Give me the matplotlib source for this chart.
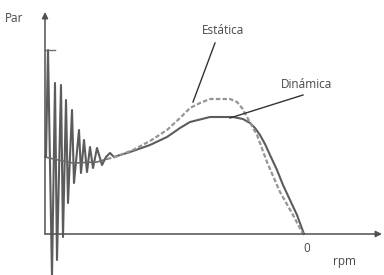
import numpy as np
import matplotlib.pyplot as plt

plt.rcParams['font.family'] = ['Open Sans', 'DejaVu Sans']

# curva dinámica (oscilaciones de arranque), unidades del gráfico
din_x = [1, 3, 7, 10, 12, 16, 18, 21, 23, 27, 29, 34, 36, 39, 42, 45, 48, 52,
         57, 61, 65, 69, 75, 82, 88, 105, 122, 135, 145, 165, 188, 198, 205,
         210, 215, 220, 225, 232, 238, 245, 252, 259]
din_y = [77, 184, -43, 151, -26, 149, -3, 134, 31, 124, 51, 104, 61, 94, 62,
         87, 66, 86, 69, 77, 81, 77, 79, 81, 83, 89, 97, 106, 112, 117, 117,
         115, 111, 106, 99, 90, 79, 64, 49, 34, 19, 0]

# curva estática
est_x = [0, 13, 28, 52, 62, 70, 88, 105, 122, 135, 145, 155, 165, 185, 192,
         197, 202, 207, 212, 222, 235, 248, 258]
est_y = [77, 74, 71, 72, 75, 77, 84, 93, 104, 116, 126, 131, 135, 135, 132,
         126, 117, 108, 99, 72, 42, 19, 0]
corte = 4  # a partir de aquí la estática va a trazos

fig = plt.figure(figsize=(3.84, 2.75), dpi=100)
ax = fig.add_axes([0, 0, 1, 1])
ax.set_xlim(-45, 339)
ax.set_ylim(-41, 234)
ax.axis('off')

ax.plot(din_x, din_y, color='#5c5c5c', lw=1.5)
ax.plot(est_x[:corte + 1], est_y[:corte + 1], color='#6a6a6a', lw=1.2)
ax.plot(est_x[corte:], est_y[corte:], color='#959595', lw=1.6, ls=(0, (2, 1)))
ax.plot([0, 10], [184, 184], color='#707070', lw=1.0)

# ejes con flecha
flecha = dict(arrowstyle='-|>', color='#505050', lw=1.1, mutation_scale=9,
              shrinkA=0, shrinkB=0)
ax.annotate('', xy=(0, 222), xytext=(0, 0), arrowprops=flecha)
ax.annotate('', xy=(337, 0), xytext=(0, 0), arrowprops=flecha)

# etiquetas
ax.plot([170, 148], [191, 132], color='#333333', lw=1.0)
ax.plot([258, 185], [139, 116], color='#333333', lw=1.0)
kw = dict(fontsize=8.5, ha='center', va='center', color='#484848')
ax.text(178, 203, 'Estática', **kw)
ax.text(262, 149, 'Dinámica', **kw)
ax.text(-31, 216, 'Par', **kw)
ax.text(262, -14, '0', **kw)
ax.text(300, -28, 'rpm', **kw)

fig.savefig('out.png', dpi=100)
